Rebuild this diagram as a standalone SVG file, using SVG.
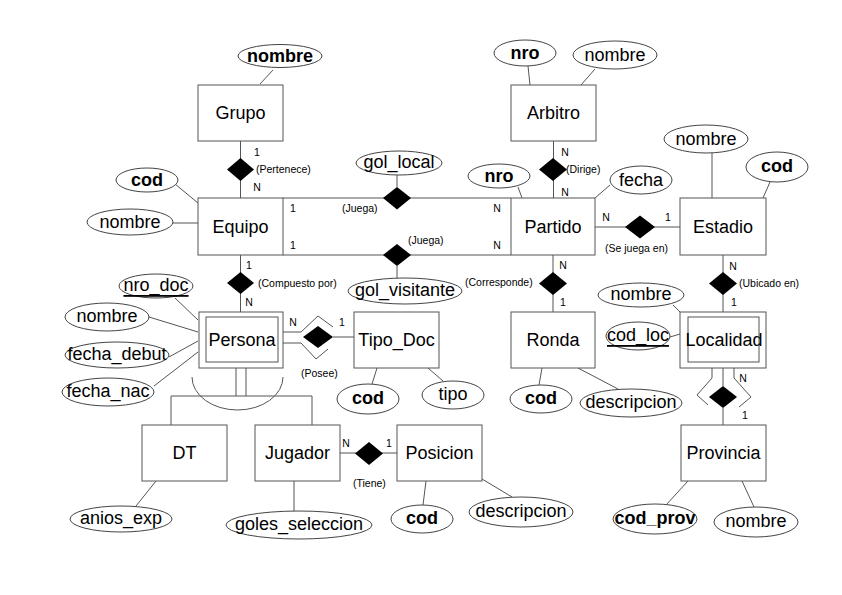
<svg xmlns="http://www.w3.org/2000/svg" width="842" height="595" viewBox="0 0 842 595">
<defs>
<style>
.ent{fill:#fff;stroke:#555;stroke-width:1}
.att{fill:#fff;stroke:#444;stroke-width:1}
.ln{fill:none;stroke:#555;stroke-width:1}
.dia{fill:#000;stroke:none}
.t{font-family:"Liberation Sans",Arial,sans-serif;font-size:18px;fill:#000;text-anchor:middle;dominant-baseline:central}
.b{font-weight:bold}
.u{text-decoration:underline}
.s{font-family:"Liberation Sans",Arial,sans-serif;font-size:10.5px;fill:#000;dominant-baseline:central}
.m{text-anchor:middle}
</style>
</defs>
<rect width="842" height="595" fill="#fff"/>
<g id="connectors">
<!-- attribute lines -->
<line class="ln" x1="260" y1="84" x2="273" y2="70"/>
<line class="ln" x1="175" y1="184" x2="198" y2="203"/>
<line class="ln" x1="173" y1="223" x2="198" y2="223"/>
<line class="ln" x1="528" y1="66" x2="530" y2="85"/>
<line class="ln" x1="595" y1="69" x2="581" y2="85"/>
<line class="ln" x1="518" y1="187" x2="522" y2="198"/>
<line class="ln" x1="610" y1="185" x2="595" y2="198"/>
<line class="ln" x1="712" y1="153" x2="712" y2="198"/>
<line class="ln" x1="770" y1="182" x2="763" y2="198"/>
<line class="ln" x1="397" y1="175" x2="397" y2="187"/>
<line class="ln" x1="397" y1="266" x2="397" y2="278"/>
<line class="ln" x1="175" y1="298" x2="198" y2="320"/>
<line class="ln" x1="149" y1="317" x2="198" y2="332"/>
<line class="ln" x1="169" y1="357" x2="198" y2="341"/>
<line class="ln" x1="154" y1="386" x2="198" y2="352"/>
<line class="ln" x1="377" y1="368" x2="372" y2="384"/>
<line class="ln" x1="428" y1="368" x2="443" y2="381"/>
<line class="ln" x1="542" y1="368" x2="539" y2="385"/>
<line class="ln" x1="578" y1="368" x2="618" y2="389"/>
<line class="ln" x1="673" y1="305" x2="680" y2="312"/>
<line class="ln" x1="670" y1="337" x2="680" y2="334"/>
<line class="ln" x1="156" y1="481" x2="136" y2="506"/>
<line class="ln" x1="294" y1="481" x2="294" y2="511"/>
<line class="ln" x1="426" y1="481" x2="423" y2="505"/>
<line class="ln" x1="482" y1="479" x2="512" y2="497"/>
<line class="ln" x1="688" y1="481" x2="666" y2="505"/>
<line class="ln" x1="742" y1="481" x2="754" y2="507"/>
<!-- relationship lines -->
<line class="ln" x1="240.5" y1="141" x2="240.5" y2="198"/>
<line class="ln" x1="553.5" y1="141" x2="553.5" y2="198"/>
<line class="ln" x1="283" y1="198" x2="511" y2="198"/>
<line class="ln" x1="283" y1="255" x2="511" y2="255"/>
<line class="ln" x1="595" y1="227" x2="680" y2="227"/>
<line class="ln" x1="723" y1="255" x2="723" y2="312"/>
<line class="ln" x1="553" y1="255" x2="553" y2="312"/>
<line class="ln" x1="240.5" y1="255" x2="240.5" y2="312"/>
<line class="ln" x1="333" y1="337" x2="354" y2="337"/>
<polyline class="ln" points="283,332 301,332 318,316 333,327"/>
<polyline class="ln" points="283,343 301,343 316,359 328,349"/>
<polyline class="ln" points="712,368 712,378 697,395 708,405"/>
<polyline class="ln" points="734,368 734,378 751,397 739,407"/>
<line class="ln" x1="723" y1="368" x2="723" y2="386"/>
<line class="ln" x1="723" y1="408" x2="723" y2="425"/>
<line class="ln" x1="340" y1="453" x2="397" y2="453"/>
<!-- ISA -->
<line class="ln" x1="236" y1="368" x2="236" y2="396"/>
<line class="ln" x1="246" y1="368" x2="246" y2="396"/>
<polyline class="ln" points="171,425 171,396 312,396 312,425"/>
<path class="ln" d="M192,377 A45.5 33 0 0 0 283,377"/>
<!-- diamonds -->
<polygon class="dia" points="240.5,158 254,169.5 240.5,181 227,169.5"/>
<polygon class="dia" points="553,158 567,169.5 553,181 539,169.5"/>
<polygon class="dia" points="397,187 411,198 397,209.5 383,198"/>
<polygon class="dia" points="397,244 411,255 397,266 383,255"/>
<polygon class="dia" points="640,215.5 655,227 640,238.5 625,227"/>
<polygon class="dia" points="723,272 737,283.5 723,295 709,283.5"/>
<polygon class="dia" points="553,272 567,283.5 553,295 539,283.5"/>
<polygon class="dia" points="240.5,272 254,283 240.5,294 227,283"/>
<polygon class="dia" points="318,326 333,337 318,348 303,337"/>
<polygon class="dia" points="723,386 737,397 723,408 709,397"/>
<polygon class="dia" points="369,442 383,453.5 369,465 355,453.5"/>
<!-- labels -->
<text class="s m" x="257" y="152">1</text>
<text class="s" x="256" y="169">(Pertenece)</text>
<text class="s m" x="257" y="187">N</text>
<text class="s m" x="293" y="208">1</text>
<text class="s m" x="293" y="245">1</text>
<text class="s m" x="497" y="208">N</text>
<text class="s m" x="497" y="245">N</text>
<text class="s" x="342" y="208">(Juega)</text>
<text class="s" x="408" y="240">(Juega)</text>
<text class="s m" x="565" y="152">N</text>
<text class="s" x="566" y="169">(Dirige)</text>
<text class="s m" x="565" y="192">N</text>
<text class="s m" x="606" y="217">N</text>
<text class="s m" x="668" y="217">1</text>
<text class="s" x="605" y="248">(Se juega en)</text>
<text class="s m" x="733" y="266">N</text>
<text class="s" x="739" y="283">(Ubicado en)</text>
<text class="s m" x="734" y="302">1</text>
<text class="s m" x="249" y="265">1</text>
<text class="s" x="258" y="283">(Compuesto por)</text>
<text class="s m" x="249" y="302">N</text>
<text class="s m" x="563" y="265">N</text>
<text class="s" x="465" y="282">(Corresponde)</text>
<text class="s m" x="563" y="302">1</text>
<text class="s m" x="293" y="322">N</text>
<text class="s m" x="342" y="322">1</text>
<text class="s" x="301" y="373">(Posee)</text>
<text class="s m" x="743" y="378">N</text>
<text class="s m" x="745" y="415">1</text>
<text class="s m" x="346" y="443">N</text>
<text class="s m" x="389" y="443">1</text>
<text class="s" x="353" y="483">(Tiene)</text>
</g>
<g id="grupo"><rect class="ent" x="198" y="85" width="85" height="56"/><text class="t" x="240.5" y="113">Grupo</text></g>
<g id="grupo-nombre"><ellipse class="att" cx="280" cy="56" rx="42" ry="11.5"/><text class="t b" x="280" y="56">nombre</text></g>
<g id="equipo"><rect class="ent" x="198" y="198" width="85" height="57"/><text class="t" x="240.5" y="226.5">Equipo</text></g>
<g id="equipo-cod"><ellipse class="att" cx="147" cy="180" rx="31" ry="12"/><text class="t b" x="147" y="180">cod</text></g>
<g id="equipo-nombre"><ellipse class="att" cx="130" cy="222" rx="43" ry="13"/><text class="t" x="130" y="222">nombre</text></g>
<g id="arbitro"><rect class="ent" x="511" y="85" width="85" height="56"/><text class="t" x="553.5" y="113">Arbitro</text></g>
<g id="arbitro-nro"><ellipse class="att" cx="525" cy="53" rx="31" ry="13"/><text class="t b" x="525" y="53">nro</text></g>
<g id="arbitro-nombre"><ellipse class="att" cx="615" cy="55" rx="42" ry="14"/><text class="t" x="615" y="55">nombre</text></g>
<g id="partido"><rect class="ent" x="511" y="198" width="84" height="57"/><text class="t" x="553" y="226.5">Partido</text></g>
<g id="partido-nro"><ellipse class="att" cx="499" cy="176" rx="31" ry="12"/><text class="t b" x="499" y="176">nro</text></g>
<g id="partido-fecha"><ellipse class="att" cx="641" cy="180" rx="31" ry="14"/><text class="t" x="641" y="180">fecha</text></g>
<g id="gol-local"><ellipse class="att" cx="399" cy="163" rx="43" ry="12"/><text class="t" x="399" y="162">gol_local</text></g>
<g id="gol-visitante"><ellipse class="att" cx="405" cy="291" rx="57" ry="13"/><text class="t" x="405" y="290">gol_visitante</text></g>
<g id="estadio"><rect class="ent" x="680" y="198" width="86" height="57"/><text class="t" x="723" y="226.5">Estadio</text></g>
<g id="estadio-nombre"><ellipse class="att" cx="706" cy="139" rx="42" ry="14"/><text class="t" x="706" y="139">nombre</text></g>
<g id="estadio-cod"><ellipse class="att" cx="777" cy="167" rx="31" ry="15"/><text class="t b" x="777" y="166">cod</text></g>
<g id="persona"><rect class="ent" x="199" y="312" width="84" height="56"/><rect class="ent" x="206" y="317" width="72" height="45"/><text class="t" x="242" y="340">Persona</text></g>
<g id="persona-nro-doc"><ellipse class="att" cx="156" cy="286" rx="37" ry="12"/><text class="t u" x="156" y="285">nro_doc</text></g>
<g id="persona-nombre"><ellipse class="att" cx="107" cy="317" rx="42" ry="14"/><text class="t" x="107" y="316">nombre</text></g>
<g id="persona-fecha-debut"><ellipse class="att" cx="117" cy="355" rx="52" ry="13"/><text class="t" x="117" y="354">fecha_debut</text></g>
<g id="persona-fecha-nac"><ellipse class="att" cx="108" cy="392" rx="46" ry="14"/><text class="t" x="108" y="391">fecha_nac</text></g>
<g id="tipo-doc"><rect class="ent" x="354" y="312" width="85" height="56"/><text class="t" x="396.5" y="340">Tipo_Doc</text></g>
<g id="tipo-doc-cod"><ellipse class="att" cx="368" cy="399" rx="31" ry="15"/><text class="t b" x="368" y="398">cod</text></g>
<g id="tipo-doc-tipo"><ellipse class="att" cx="453" cy="395" rx="31" ry="14"/><text class="t" x="453" y="394">tipo</text></g>
<g id="ronda"><rect class="ent" x="511" y="312" width="84" height="56"/><text class="t" x="553" y="340">Ronda</text></g>
<g id="ronda-cod"><ellipse class="att" cx="541" cy="399" rx="31" ry="14"/><text class="t b" x="541" y="398">cod</text></g>
<g id="ronda-descripcion"><ellipse class="att" cx="631" cy="403" rx="51" ry="14"/><text class="t" x="631" y="402">descripcion</text></g>
<g id="localidad"><rect class="ent" x="680" y="312" width="86" height="56"/><rect class="ent" x="688" y="317" width="71" height="45"/><text class="t" x="724" y="340">Localidad</text></g>
<g id="localidad-nombre"><ellipse class="att" cx="641" cy="295" rx="43" ry="12"/><text class="t" x="641" y="294">nombre</text></g>
<g id="localidad-cod-loc"><ellipse class="att" cx="638" cy="336" rx="32" ry="14"/><text class="t u" x="638" y="335">cod_loc</text></g>
<g id="dt"><rect class="ent" x="142" y="425" width="85" height="56"/><text class="t" x="184.5" y="453">DT</text></g>
<g id="dt-anios-exp"><ellipse class="att" cx="121" cy="519" rx="51" ry="13"/><text class="t" x="121" y="518">anios_exp</text></g>
<g id="jugador"><rect class="ent" x="255" y="425" width="85" height="56"/><text class="t" x="297.5" y="453">Jugador</text></g>
<g id="jugador-goles-seleccion"><ellipse class="att" cx="299" cy="525" rx="73" ry="14"/><text class="t" x="299" y="524">goles_seleccion</text></g>
<g id="posicion"><rect class="ent" x="397" y="425" width="85" height="56"/><text class="t" x="439.5" y="453">Posicion</text></g>
<g id="posicion-cod"><ellipse class="att" cx="422" cy="519" rx="31" ry="14"/><text class="t b" x="422" y="518">cod</text></g>
<g id="posicion-descripcion"><ellipse class="att" cx="521" cy="512" rx="52" ry="15"/><text class="t" x="521" y="511">descripcion</text></g>
<g id="provincia"><rect class="ent" x="681" y="425" width="85" height="56"/><text class="t" x="723.5" y="453">Provincia</text></g>
<g id="provincia-cod-prov"><ellipse class="att" cx="655" cy="519" rx="42" ry="15"/><text class="t b" x="655" y="518">cod_prov</text></g>
<g id="provincia-nombre"><ellipse class="att" cx="756" cy="522" rx="42" ry="15"/><text class="t" x="756" y="521">nombre</text></g>
</svg>
